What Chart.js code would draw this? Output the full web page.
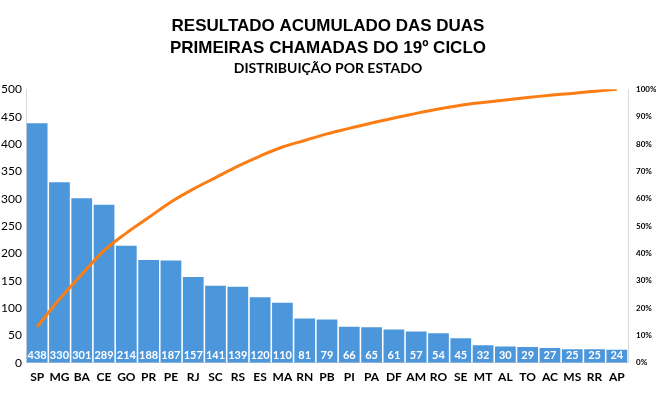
<!DOCTYPE html>
<html>
<head>
<meta charset="utf-8">
<script src="https://cdn.jsdelivr.net/npm/chart.js@4/dist/chart.umd.min.js"></script>
<style>
  html, body { margin: 0; padding: 0; background: #fff; overflow: hidden; }
  #wrap { width: 656px; height: 406px; }
</style>
</head>
<body>
<div id="wrap"><canvas id="paretoChart"></canvas></div>
<script>
// states, ordered by count
const estados = ['SP', 'MG', 'BA', 'CE', 'GO', 'PR', 'PE', 'RJ', 'SC', 'RS', 'ES', 'MA', 'RN', 'PB',
                 'PI', 'PA', 'DF', 'AM', 'RO', 'SE', 'MT', 'AL', 'TO', 'AC', 'MS', 'RR', 'AP'];
const quantidade = [438, 330, 301, 289, 214, 188, 187, 157, 141, 139, 120, 110, 81, 79,
                    66, 65, 61, 57, 54, 45, 32, 30, 29, 27, 25, 25, 24];
// cumulative share (%)
const acumulado = [13.2, 23.2, 32.3, 41.0, 47.4, 53.1, 58.8, 63.5, 67.7, 71.9, 75.6, 78.9, 81.3, 83.7,
                   85.7, 87.7, 89.5, 91.2, 92.8, 94.2, 95.2, 96.1, 97.0, 97.8, 98.5, 99.3, 100];
const leftTicks = [0, 50, 100, 150, 200, 250, 300, 350, 400, 450, 500];
const rightTicks = [0, 10, 20, 30, 40, 50, 60, 70, 80, 90, 100];

// white value labels at the foot of each bar
const barLabels = {
  id: 'barLabels',
  afterDatasetsDraw(chart) {
    const ctx = chart.ctx;
    const meta = chart.getDatasetMeta(0);
    const base = chart.scales.y.getPixelForValue(0);
    ctx.save();
    ctx.fillStyle = '#ffffff';
    ctx.font = 'bold 11px Lato, "Open Sans", sans-serif';
    ctx.textAlign = 'center';
    ctx.textBaseline = 'middle';
    meta.data.forEach((bar, i) => {
      ctx.fillText(String(quantidade[i]), bar.x, base - 7);
    });
    ctx.restore();
  }
};

new Chart(document.getElementById('paretoChart'), {
  data: {
    labels: estados,
    datasets: [
      {
        type: 'line',
        data: acumulado,
        yAxisID: 'y1',
        borderColor: '#FB7D14',
        borderWidth: 3,
        pointRadius: 0,
        tension: 0.35,
        order: 0
      },
      {
        type: 'bar',
        data: quantidade,
        yAxisID: 'y',
        backgroundColor: '#4C97DC',
        barPercentage: 0.93,
        categoryPercentage: 1,
        order: 1
      }
    ]
  },
  options: {
    responsive: true,
    maintainAspectRatio: false,
    animation: false,
    layout: { padding: { left: 0, right: 0, top: 16, bottom: 0 } },
    plugins: {
      legend: { display: false },
      tooltip: { enabled: false },
      title: {
        display: true,
        text: ['RESULTADO ACUMULADO DAS DUAS', 'PRIMEIRAS CHAMADAS DO 19º CICLO'],
        color: '#000',
        font: { family: '"Liberation Sans", Arial, sans-serif', size: 17, weight: 'bold', lineHeight: 1.25 },
        padding: { top: 0, bottom: 2 }
      },
      subtitle: {
        display: true,
        text: 'DISTRIBUIÇÃO POR ESTADO',
        color: '#000',
        font: { family: 'Lato, "Open Sans", sans-serif', size: 14, weight: 'bold' },
        padding: { top: 0, bottom: 12 }
      }
    },
    scales: {
      x: {
        grid: { display: false, drawTicks: false },
        border: { color: '#d9d9d9' },
        ticks: {
          color: '#000',
          font: { family: 'Lato, "Open Sans", sans-serif', size: 12, weight: 'bold' },
          padding: 7,
          maxRotation: 0,
          autoSkip: false
        },
        title: {
          display: true,
          text: 'Título do Eixo',
          color: '#595959',
          font: { family: 'Lato, sans-serif', size: 9 },
          padding: { top: 4, bottom: 0 }
        }
      },
      y: {
        position: 'left',
        min: 0,
        max: 500,
        afterBuildTicks: axis => { axis.ticks = leftTicks.map(v => ({ value: v })); },
        afterFit: axis => { axis.width = 26; },
        grid: { display: false, drawTicks: false },
        border: { color: '#d9d9d9' },
        ticks: {
          color: '#000',
          font: { family: 'Lato, "Open Sans", sans-serif', size: 12 },
          padding: 4
        }
      },
      y1: {
        position: 'right',
        min: 0,
        max: 100,
        afterBuildTicks: axis => { axis.ticks = rightTicks.map(v => ({ value: v })); },
        afterFit: axis => { axis.width = 28; },
        grid: { display: false, drawTicks: false },
        border: { color: '#d9d9d9' },
        ticks: {
          color: '#000',
          font: { family: 'Lato, "Open Sans", sans-serif', size: 8, weight: 'bold' },
          padding: 8,
          callback: v => v + '%'
        }
      }
    }
  },
  plugins: [barLabels]
});
</script>
</body>
</html>
